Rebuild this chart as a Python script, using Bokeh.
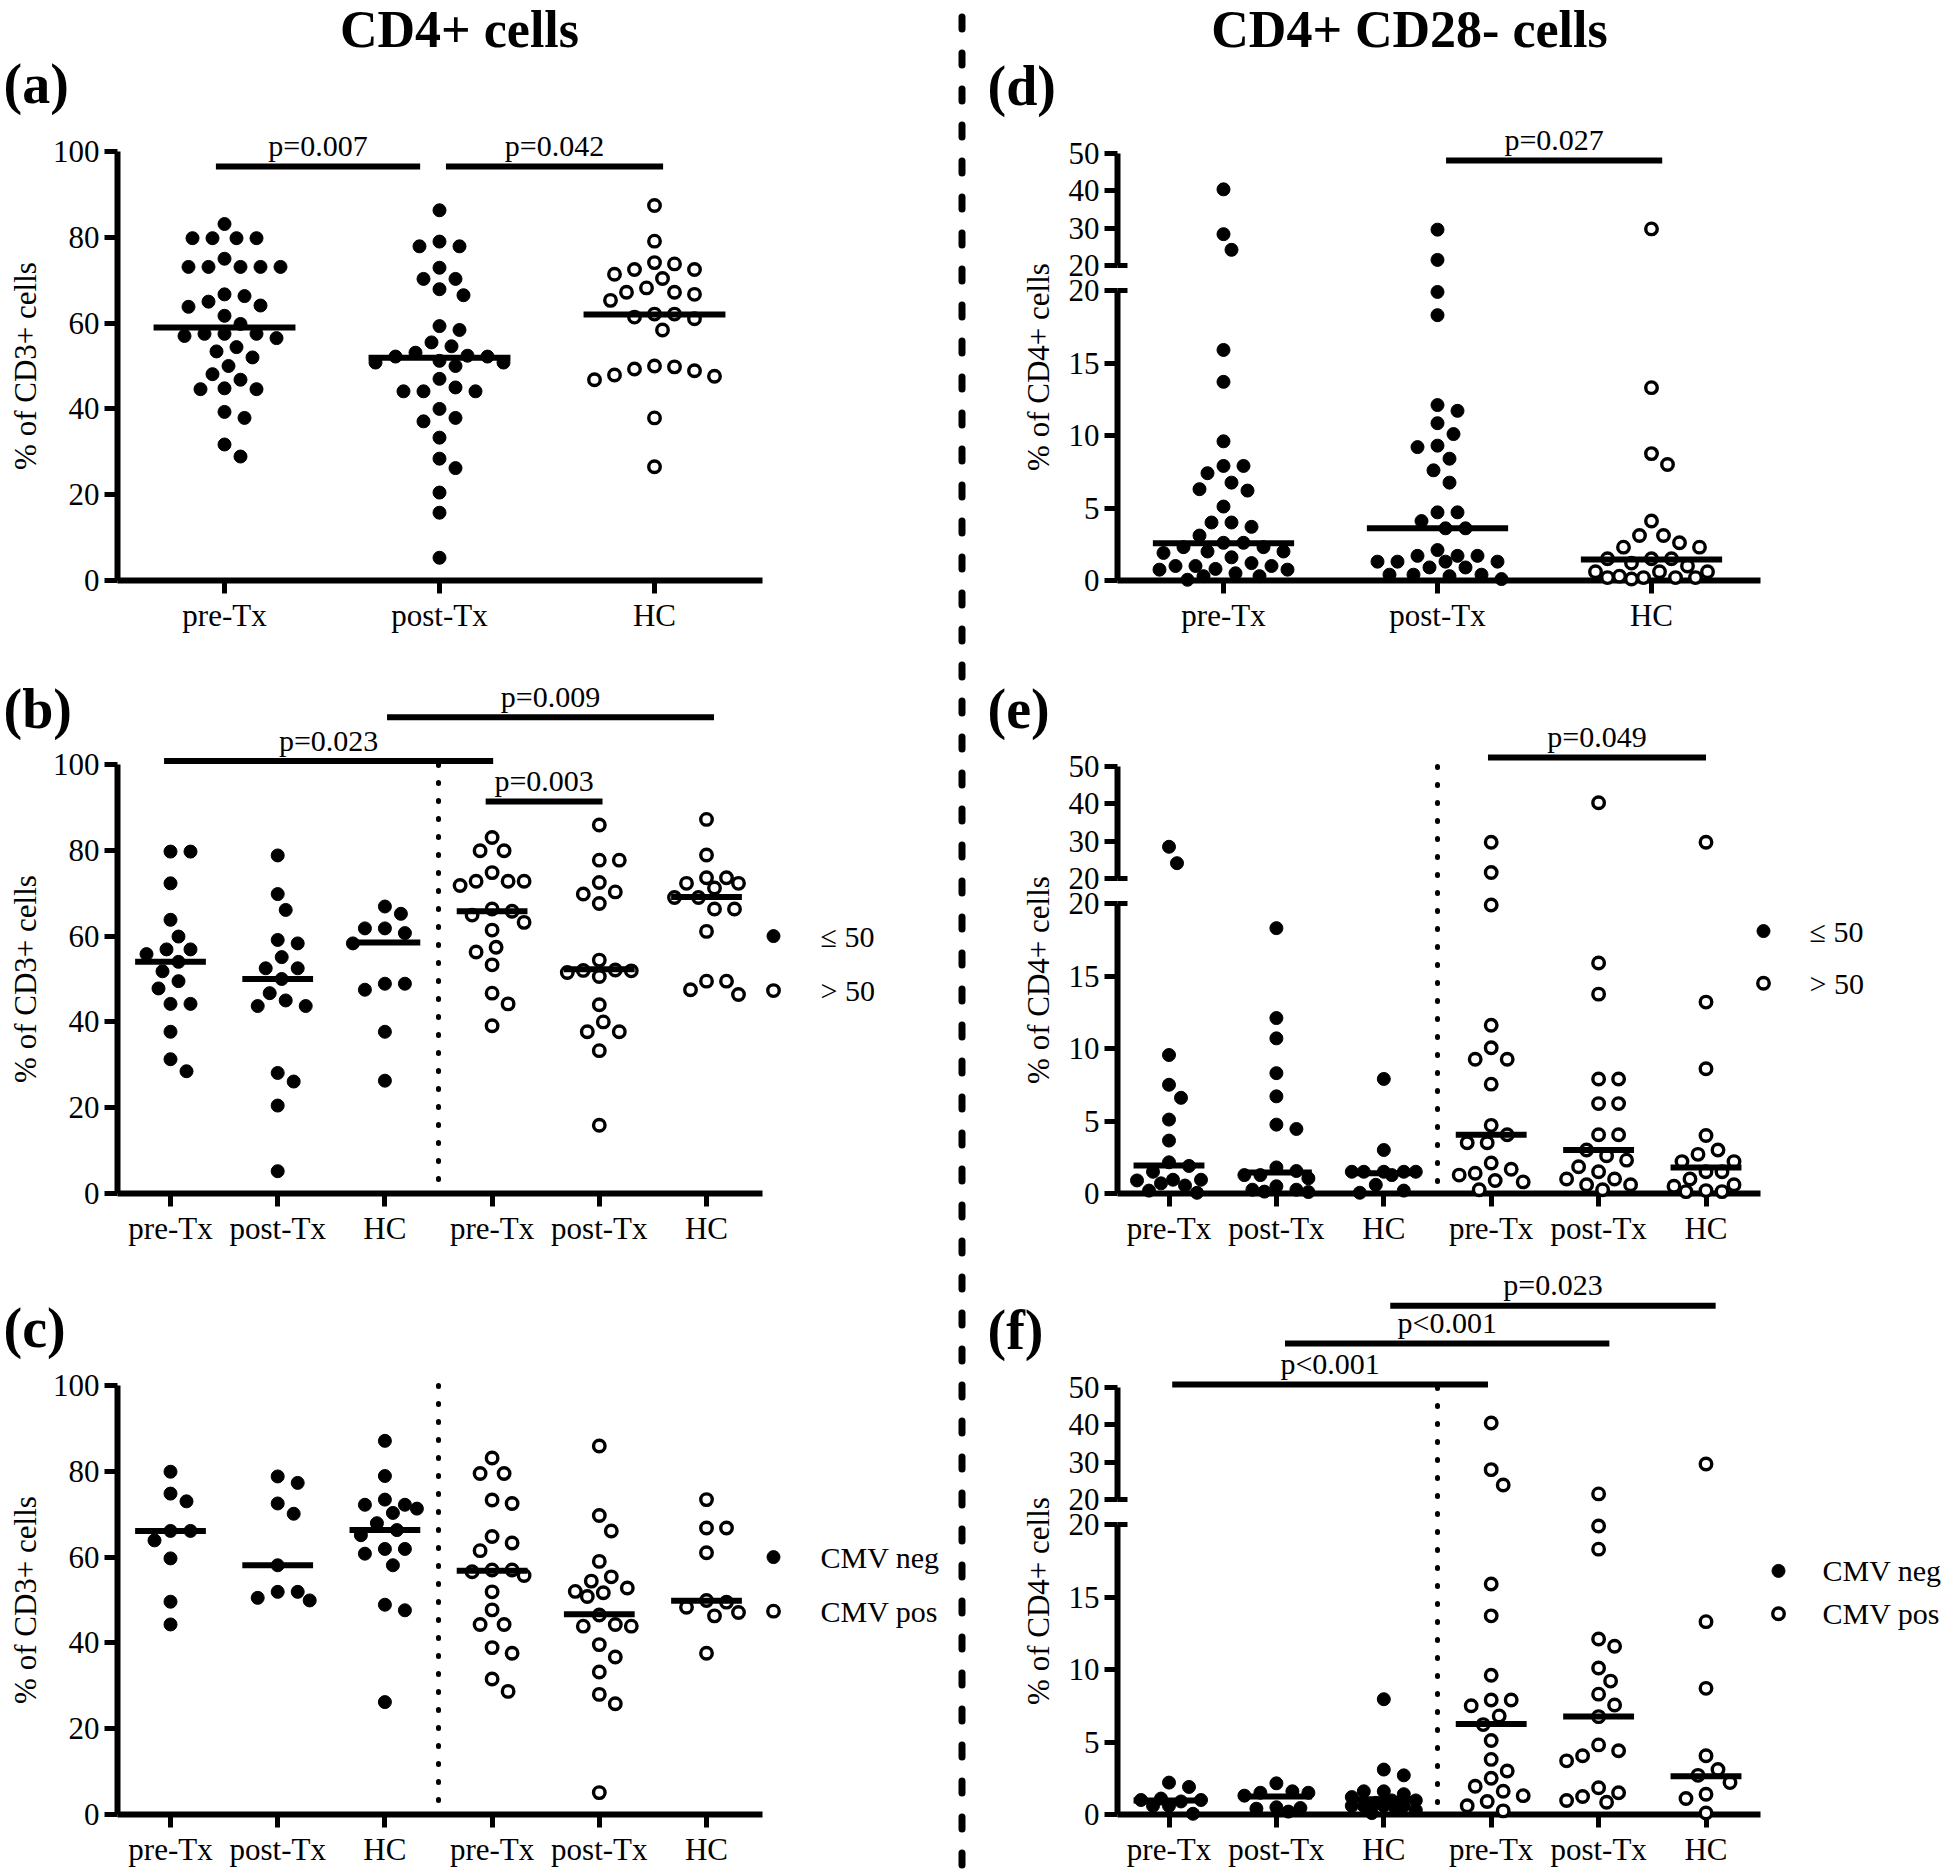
import numpy as np
from bokeh.plotting import figure
from bokeh.models import Range1d, LinearAxis, FixedTicker
from bokeh.core.properties import value
from bokeh.embed import file_html
from bokeh.resources import INLINE

# ------------------------------------------------------------------ data
CATS3 = ["pre-Tx", "post-Tx", "HC"]
CATS6 = CATS3 + CATS3
TITLE_L = "CD4+ cells"
TITLE_R = "CD4+ CD28- cells"
YLAB_L = "% of CD3+ cells"
YLAB_R = "% of CD4+ cells"
LEG_AGE = ["\u2264 50", "> 50"]
LEG_CMV = ["CMV neg", "CMV pos"]

# (a) % of CD3+ cells, all patients
a_pre = [83.1, 79.8, 79.8, 79.8, 79.8, 75.0, 73.1, 73.1, 73.1, 73.1, 73.1, 66.7, 66.3, 65.0, 63.8, 64.1, 61.7, 59.8,
         57.5, 57.5, 57.5, 56.5, 57.0, 54.4, 53.4, 52.0, 50.0, 48.1, 46.8, 44.6, 44.6, 44.8, 39.3, 37.9, 31.7, 28.9]
a_post = [86.3, 79.0, 77.9, 77.9, 72.9, 70.3, 70.3, 67.9, 66.5, 59.3, 58.4, 55.5, 54.6, 53.1, 51.2, 50.8, 50.8, 52.2,
          52.2, 50.0, 52.4, 47.0, 45.0, 44.1, 44.1, 44.1, 40.0, 37.9, 37.1, 33.3, 28.4, 26.2, 20.5, 15.8, 5.3]
a_hc = [87.4, 79.1, 73.8, 74.1, 72.5, 72.5, 71.4, 70.4, 68.2, 67.2, 67.2, 66.7, 65.3, 62.1, 62.1, 61.4, 61.0, 58.4,
        50.0, 49.8, 48.9, 49.3, 47.9, 47.6, 46.8, 37.9, 26.5]
a_med = [59.0, 51.9, 62.0]

# (b) by age: <=50 (pre, post, HC), >50 (pre, post, HC)
b_le_pre = [79.7, 79.7, 72.3, 63.8, 59.9, 56.9, 56.9, 55.8, 54.0, 51.8, 49.5, 47.8, 44.2, 44.2, 37.7, 31.3, 28.5]
b_le_post = [78.8, 69.8, 66.1, 59.1, 58.3, 55.1, 52.5, 52.5, 50.0, 46.7, 45.0, 43.7, 43.7, 28.1, 26.1, 20.5, 5.2]
b_le_hc = [66.9, 65.2, 61.8, 61.8, 60.7, 58.3, 48.9, 48.9, 47.5, 37.7, 26.3]
b_gt_pre = [83.0, 79.9, 79.9, 74.8, 72.8, 72.8, 72.8, 71.8, 66.3, 65.8, 64.9, 63.2, 61.4, 57.4, 56.3, 53.3, 46.7,
            44.2, 39.1]
b_gt_post = [85.9, 77.7, 77.7, 72.5, 70.3, 69.8, 67.6, 54.4, 52.1, 52.0, 51.9, 51.5, 50.6, 44.0, 40.0, 37.7, 37.7,
             33.3, 15.9]
b_gt_hc = [87.2, 78.9, 73.6, 73.6, 72.3, 72.3, 71.2, 69.0, 69.0, 66.3, 66.3, 61.1, 49.5, 49.5, 47.5, 46.4]
b_med = [54.0, 50.0, 58.5, 65.8, 52.3, 69.1]

# (c) by CMV: neg (pre, post, HC), pos (pre, post, HC)
c_neg_pre = [79.9, 74.8, 73.0, 66.1, 66.1, 63.9, 59.7, 49.6, 44.3]
c_neg_post = [78.8, 77.3, 72.5, 70.1, 58.1, 51.9, 51.9, 50.5, 49.9]
c_neg_hc = [87.1, 78.9, 73.4, 72.2, 72.2, 71.3, 70.3, 67.9, 66.3, 65.1, 61.9, 61.9, 60.8, 58.1, 48.9, 47.6, 26.2]
c_pos_pre = [83.1, 79.5, 79.5, 73.3, 72.5, 64.8, 63.3, 61.5, 57.0, 57.0, 56.6, 55.7, 51.9, 47.7, 44.3, 44.3, 38.9,
             37.6, 31.6, 28.7]
c_pos_post = [85.9, 69.7, 66.1, 59.0, 55.4, 54.4, 52.8, 52.0, 51.7, 50.8, 46.5, 43.9, 43.9, 44.3, 39.6, 36.7, 33.2,
              28.0, 25.8, 5.1]
c_pos_hc = [73.4, 66.8, 66.8, 61.0, 49.5, 49.9, 48.3, 47.1, 46.3, 37.6]
c_med = [66.1, 58.1, 66.3, 56.8, 46.7, 49.8]

# (d) % of CD4+ cells that are CD28-, all patients
d_pre = [40.4, 28.4, 24.2, 15.9, 13.7, 9.6, 7.9, 7.9, 7.4, 6.75, 6.2, 6.3, 5.1, 4.0, 4.0, 3.7, 3.1, 2.6, 2.6, 2.3,
         2.3, 2.0, 2.0, 1.9, 1.6, 1.2, 1.0, 1.0, 1.0, 0.75, 0.75, 0.8, 0.5, 0.3, 0.3, 0.05]
d_post = [29.6, 21.5, 19.9, 18.3, 12.1, 11.7, 10.85, 10.1, 9.3, 9.2, 8.4, 7.6, 6.75, 4.7, 4.7, 4.1, 3.6, 3.6, 2.1,
          1.7, 1.7, 1.7, 1.3, 1.3, 1.3, 1.3, 0.9, 0.9, 0.4, 0.4, 0.4, 0.3, 0.1]
d_hc = [29.8, 13.3, 8.75, 8.0, 4.1, 3.1, 3.1, 2.6, 2.3, 2.3, 1.5, 1.5, 1.5, 1.2, 1.0, 0.6, 0.6, 0.6, 0.3, 0.2, 0.2,
        0.2, 0.2, 0.1]
d_med = [2.57, 3.6, 1.45]

# (e) by age
e_le_pre = [28.5, 24.1, 9.55, 7.5, 6.6, 5.1, 3.65, 2.15, 1.9, 1.5, 0.95, 0.95, 0.9, 0.7, 0.55, 0.2, 0.05]
e_le_post = [18.3, 12.1, 10.7, 8.3, 6.7, 4.75, 4.45, 1.8, 1.55, 1.27, 1.27, 1.05, 0.5, 0.26, 0.26, 0.13, 0.1]
e_le_hc = [7.9, 3.0, 1.5, 1.5, 1.5, 1.5, 1.5, 1.27, 0.6, 0.2, 0.05]
e_gt_pre = [29.7, 21.6, 19.9, 11.6, 10.05, 9.26, 9.26, 7.54, 4.7, 4.05, 3.5, 3.5, 2.1, 1.67, 1.4, 1.27, 0.9, 0.8,
            0.26]
e_gt_post = [40.3, 15.9, 13.75, 7.9, 7.9, 6.2, 6.2, 4.05, 4.05, 3.0, 2.6, 2.3, 1.85, 1.5, 1.0, 1.0, 0.6, 0.6, 0.26]
e_gt_hc = [29.7, 13.2, 8.6, 4.0, 3.0, 2.7, 2.2, 2.2, 1.5, 1.5, 1.0, 0.6, 0.5, 0.2, 0.13, 0.13]
e_med = [1.93, 1.45, 1.4, 4.05, 3.0, 1.8]

# (f) by CMV
f_neg_pre = [2.2, 1.9, 1.1, 1.0, 1.0, 0.9, 0.6, 0.6, 0.05]
f_neg_post = [2.15, 1.6, 1.5, 1.5, 1.3, 0.5, 0.45, 0.4, 0.2]
f_neg_hc = [7.95, 3.1, 2.7, 1.6, 1.6, 1.4, 1.2, 0.97, 0.97, 0.8, 0.6, 0.6, 0.6, 0.6, 0.4, 0.3, 0.1]
f_pos_pre = [40.5, 28.0, 23.9, 15.9, 13.7, 9.6, 7.9, 7.9, 7.5, 6.8, 6.2, 5.1, 3.8, 3.0, 2.5, 1.95, 1.6, 1.3, 0.9,
             0.6, 0.25]
f_pos_post = [21.5, 19.9, 18.3, 12.1, 11.6, 10.1, 9.2, 8.3, 7.55, 6.75, 4.8, 4.4, 4.05, 3.7, 1.85, 1.5, 1.24, 0.97,
              0.85]
f_pos_hc = [29.5, 13.3, 8.7, 4.05, 3.1, 2.7, 2.2, 1.4, 1.1, 0.1]
f_med = [0.97, 1.24, 1.05, 6.24, 6.76, 2.63]

# significance annotations: label, from group, to group, bar height (axis units)
a_p_text = ["p=0.007", "p=0.042"]
a_p_x0 = [0.96, 2.03]
a_p_x1 = [1.91, 3.04]
a_p_y = [96.5, 96.5]
b_p_text = ["p=0.023", "p=0.009", "p=0.003"]
b_p_x0 = [0.94, 3.02, 3.94]
b_p_x1 = [4.01, 6.07, 5.03]
b_p_y = [100.8, 111.0, 91.4]
d_p_text = ["p=0.027"]
d_p_x0 = [2.04]
d_p_x1 = [3.05]
d_p_y = [48.1]
e_p_text = ["p=0.049"]
e_p_x0 = [3.97]
e_p_x1 = [6.0]
e_p_y = [52.4]
f_p_text = ["p<0.001", "p<0.001", "p=0.023"]
f_p_x0 = [1.03, 2.08, 3.06]
f_p_x1 = [3.97, 5.1, 6.09]
f_p_y = [50.8, 61.8, 71.9]

# ------------------------------------------------------------------ layout
FONT = "Liberation Serif"
W, H = 1946, 1870
SX0, SX1 = 0, W
SY0, SY1 = 0, H
ROW_Z = [580.0, 1193.0, 1814.0]      # screen y of value 0 per row
K_LEFT = 4.29                         # px per % (0-100 axis)
KB = 14.5                             # px per % lower segment (0-20)
KT = 112.0 / 30.0                     # px per % upper segment (20-50)
SEG_B = 290.0
GAP = 25.0
# y-axis x, x-axis end, y-label centre x, legend marker x, legend text x
COLS = {"L": (117.0, 762.0, 25.0, 773.0, 820.0), "R": (1117.0, 1760.0, 1038.0, 1763.0, 1809.0)}

p = figure(width=W, height=H, x_range=Range1d(SX0, SX1), y_range=Range1d(SY1, SY0),
           x_axis_type=None, y_axis_type=None, toolbar_location=None,
           output_backend="svg", min_border=0)
p.outline_line_color = None
p.background_fill_color = "white"
p.border_fill_color = "white"


def style_axis(ax, standoff):
    ax.axis_line_width = 6
    ax.axis_line_color = "black"
    ax.major_tick_line_width = 5
    ax.major_tick_line_color = "black"
    ax.major_tick_out = 13
    ax.major_tick_in = 0
    ax.minor_tick_line_color = None
    ax.major_label_text_font = FONT
    ax.major_label_text_font_size = "31px"
    ax.major_label_text_color = "black"
    ax.major_label_standoff = standoff
    ax.level = "underlay"


def swarm(sy, maxoff, D=17.5, step=4.0):
    """Beeswarm x offsets (px): nearest free slot to the centre, limited to +-maxoff."""
    sy = np.asarray(sy, dtype=float)
    order = np.argsort(sy, kind="stable")
    cands = [0.0]
    k = 1
    while k * step <= maxoff:
        cands += [k * step, -k * step]
        k += 1
    px, py = [], []
    off = np.zeros(len(sy))
    for i in order:
        best, bestd = 0.0, -1.0
        for c in cands:
            dmin = min([np.hypot(c - a, sy[i] - b) for a, b in zip(px, py)] or [1e9])
            if dmin >= D:
                best = c
                break
            if dmin > bestd:
                best, bestd = c, dmin
        off[i] = best
        px.append(best)
        py.append(sy[i])
    return off


PANELS = [
    dict(key="a", col="L", row=0, c1=224.0, dc=215.0, broken=False,
         groups=[a_pre, a_post, a_hc], med=a_med, cats=CATS3, open=[0, 0, 1],
         pv=(a_p_text, a_p_x0, a_p_x1, a_p_y), legend=None, divider=False, label="(a)", lab_y=83),
    dict(key="b", col="L", row=1, c1=170.0, dc=107.2, broken=False,
         groups=[b_le_pre, b_le_post, b_le_hc, b_gt_pre, b_gt_post, b_gt_hc], med=b_med, cats=CATS6,
         open=[0, 0, 0, 1, 1, 1], pv=(b_p_text, b_p_x0, b_p_x1, b_p_y),
         legend=(LEG_AGE, 60.0, 47.3), divider=True, label="(b)", lab_y=708),
    dict(key="c", col="L", row=2, c1=170.0, dc=107.2, broken=False,
         groups=[c_neg_pre, c_neg_post, c_neg_hc, c_pos_pre, c_pos_post, c_pos_hc], med=c_med, cats=CATS6,
         open=[0, 0, 0, 1, 1, 1], pv=None,
         legend=(LEG_CMV, 60.0, 47.4), divider=True, label="(c)", lab_y=1327),
    dict(key="d", col="R", row=0, c1=1223.0, dc=214.0, broken=True,
         groups=[d_pre, d_post, d_hc], med=d_med, cats=CATS3, open=[0, 0, 1],
         pv=(d_p_text, d_p_x0, d_p_x1, d_p_y), legend=None, divider=False, label="(d)", lab_y=85),
    dict(key="e", col="R", row=1, c1=1168.5, dc=107.4, broken=True,
         groups=[e_le_pre, e_le_post, e_le_hc, e_gt_pre, e_gt_post, e_gt_hc], med=e_med, cats=CATS6,
         open=[0, 0, 0, 1, 1, 1], pv=(e_p_text, e_p_x0, e_p_x1, e_p_y),
         legend=(LEG_AGE, 18.1, 14.5), divider=True, label="(e)", lab_y=708),
    dict(key="f", col="R", row=2, c1=1168.5, dc=107.4, broken=True,
         groups=[f_neg_pre, f_neg_post, f_neg_hc, f_pos_pre, f_pos_post, f_pos_hc], med=f_med, cats=CATS6,
         open=[0, 0, 0, 1, 1, 1], pv=(f_p_text, f_p_x0, f_p_x1, f_p_y),
         legend=(LEG_CMV, 16.8, 13.85), divider=True, label="(f)", lab_y=1329),
]

FILLED = dict(marker="circle", size=13, fill_color="black", line_color="black", line_width=1)
OPEN = dict(marker="circle", size=11.5, fill_color="white", line_color="black", line_width=3.4)

for P in PANELS:
    key, c1, dc, broken = P["key"], P["c1"], P["dc"], P["broken"]
    yax_s, xend_s, ylab_s, leg_dot_s, leg_txt_s = COLS[P["col"]]
    if key == "f":
        leg_dot_s, leg_txt_s = 1778.0, 1822.0
    z0 = ROW_Z[P["row"]]

    def vx(s, c1=c1, dc=dc):
        return 1.0 + (s - c1) / dc

    xn = "x" + key
    p.extra_x_ranges[xn] = Range1d(vx(SX0), vx(SX1))
    yb = "yb" + key
    if broken:
        kb = KB
        p.extra_y_ranges[yb] = Range1d((z0 - SY1) / kb, (z0 - SY0) / kb)
        yt = "yt" + key
        A = z0 - SEG_B - GAP + 20.0 * KT
        p.extra_y_ranges[yt] = Range1d((A - SY1) / KT, (A - SY0) / KT)
    else:
        kb = K_LEFT
        p.extra_y_ranges[yb] = Range1d((z0 - SY1) / kb, (z0 - SY0) / kb)
        yt = yb

    def sy_of(v):
        if broken and v > 20:
            return z0 - SEG_B - GAP - (v - 20.0) * KT
        return z0 - v * kb

    ncat = len(P["cats"])
    # x axis
    xa = LinearAxis(x_range_name=xn, y_range_name=yb, fixed_location=0,
                    bounds=(vx(yax_s), vx(xend_s)),
                    ticker=FixedTicker(ticks=list(range(1, ncat + 1))),
                    major_label_overrides={i + 1: c for i, c in enumerate(P["cats"])})
    style_axis(xa, 4)
    p.add_layout(xa, "below")
    # y axis / axes
    if broken:
        ya1 = LinearAxis(x_range_name=xn, y_range_name=yb, fixed_location=vx(yax_s), bounds=(0, 20),
                         ticker=FixedTicker(ticks=[0, 5, 10, 15, 20]))
        ya2 = LinearAxis(x_range_name=xn, y_range_name=yt, fixed_location=vx(yax_s), bounds=(20, 50),
                         ticker=FixedTicker(ticks=[20, 30, 40, 50]))
        for ya in (ya1, ya2):
            style_axis(ya, 5)
            p.add_layout(ya, "left")
        # break caps
        p.segment(x0=[vx(yax_s)], y0=[20], x1=[vx(yax_s + 10)], y1=[20], line_width=5, line_color="black",
                  x_range_name=xn, y_range_name=yb)
        p.segment(x0=[vx(yax_s)], y0=[20], x1=[vx(yax_s + 10)], y1=[20], line_width=5, line_color="black",
                  x_range_name=xn, y_range_name=yt)
        ytop_b = (SEG_B + GAP + 30 * KT) / kb
        ymid_b = (SEG_B + GAP + 30 * KT) / 2.0 / kb
    else:
        ya = LinearAxis(x_range_name=xn, y_range_name=yb, fixed_location=vx(yax_s), bounds=(0, 100),
                        ticker=FixedTicker(ticks=[0, 20, 40, 60, 80, 100]))
        style_axis(ya, 5)
        p.add_layout(ya, "left")
        ytop_b = 100.0
        ymid_b = 50.0

    # y axis label
    p.text(x=[vx(ylab_s)], y=[ymid_b], text=[YLAB_L if P["col"] == "L" else YLAB_R], angle=np.pi / 2,
           text_align="center", text_baseline="middle", text_font=value(FONT), text_font_size="31px",
           text_color="black", x_range_name=xn, y_range_name=yb)

    # dotted divider
    if P["divider"]:
        p.segment(x0=[3.5], y0=[ytop_b], x1=[3.5], y1=[0], line_width=5, line_color="black",
                  line_dash="1 17", line_cap="round", x_range_name=xn, y_range_name=yb)

    # points
    for gi, vals in enumerate(P["groups"]):
        vals = np.asarray(vals, dtype=float)
        sy = np.array([sy_of(v) for v in vals])
        xs = (gi + 1) + swarm(sy, 0.3 * dc) / dc
        hi = vals > 20 if broken else np.zeros(len(vals), dtype=bool)
        for mask, rng in ((~hi, yb), (hi, yt)):
            if not mask.any():
                continue
            st = OPEN if P["open"][gi] else FILLED
            p.scatter(xs[mask], vals[mask], x_range_name=xn, y_range_name=rng, **st)
    # medians
    gx = np.arange(1, ncat + 1, dtype=float)
    p.segment(x0=gx - 0.33, y0=P["med"], x1=gx + 0.33, y1=P["med"], line_width=6, line_color="black",
              x_range_name=xn, y_range_name=yb)

    # significance bars
    if P["pv"] is not None:
        txt, x0, x1, yy = P["pv"]
        kk = KT if broken else kb
        p.segment(x0=x0, y0=yy, x1=x1, y1=yy, line_width=6, line_color="black",
                  x_range_name=xn, y_range_name=yt)
        p.text(x=[(u + w) / 2 for u, w in zip(x0, x1)], y=[v + 21.0 / kk for v in yy], text=txt,
               text_align="center", text_baseline="middle", text_font=value(FONT), text_font_size="30px",
               text_color="black", x_range_name=xn, y_range_name=yt)

    # legend
    if P["legend"] is not None:
        labs, ly1, ly2 = P["legend"]
        p.scatter([vx(leg_dot_s)], [ly1], x_range_name=xn, y_range_name=yb, **FILLED)
        p.scatter([vx(leg_dot_s)], [ly2], x_range_name=xn, y_range_name=yb, **OPEN)
        p.text(x=[vx(leg_txt_s)] * 2, y=[ly1, ly2], text=labs, text_align="left", text_baseline="middle",
               text_font=value(FONT), text_font_size="30px", text_color="black",
               x_range_name=xn, y_range_name=yb)

    # panel letter
    p.text(x=[3.0 if P["col"] == "L" else 987.0], y=[P["lab_y"]], text=[P["label"]], text_align="left",
           text_baseline="middle", text_font=value(FONT), text_font_size="56px", text_font_style="bold",
           text_color="black")

# column titles
p.text(x=[459.0, 1409.0], y=[29.0, 29.0], text=[TITLE_L, TITLE_R], text_align="center",
       text_baseline="middle", text_font=value(FONT), text_font_size="52px", text_font_style="bold",
       text_color="black")

# dashed separator between the two columns
p.segment(x0=[961.5], y0=[16.5], x1=[961.5], y1=[1870.0], line_width=7, line_color="black",
          line_dash="12 24", line_cap="round")

open("out.html", "w").write(file_html(p, INLINE, "CD4 figure"))
